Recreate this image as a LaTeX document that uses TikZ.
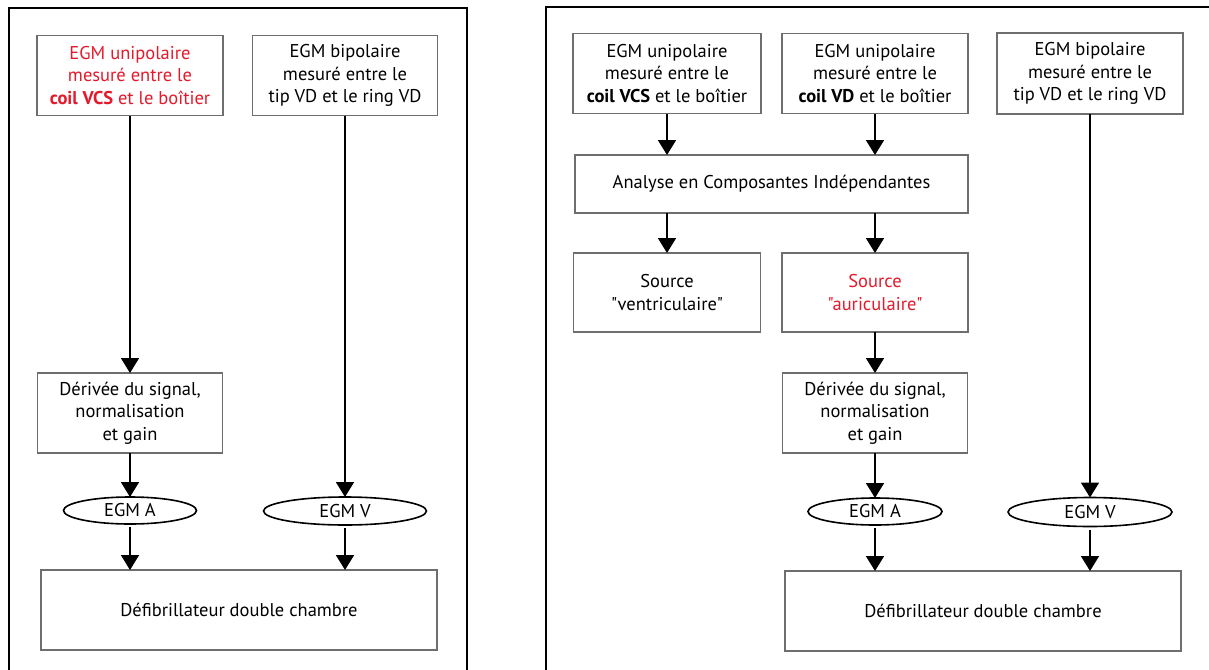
\documentclass[tikz,border=0pt]{standalone}
\usepackage{fontspec}
\setmainfont{PT Sans}[Ligatures=TeXOff]
\usetikzlibrary{shapes.geometric,arrows.meta}
\definecolor{boxgray}{RGB}{110,110,110}
\definecolor{egmred}{RGB}{228,26,44}
\tikzset{
  box/.style={draw=boxgray, line width=1.2pt, fill=white, inner sep=0pt, outer sep=0pt,
    minimum width=186pt, minimum height=80pt, align=center,
    font=\fontsize{18.5}{22.5}\selectfont},
  oval/.style={ellipse, draw=black, line width=1.6pt, inner sep=0pt, outer sep=0pt,
    minimum height=27pt, font=\fontsize{18.5}{20}\selectfont},
  flow/.style={line width=1.8pt, -{Triangle[width=18pt,length=15pt]}},
  frame/.style={line width=1.8pt, black},
}
\begin{document}
\begin{tikzpicture}[x=1pt,y=-1pt]
\useasboundingbox (0,0) rectangle (1209,669);
% frames
\draw[frame] (9,675) -- (9,8) -- (467,8) -- (467,675);
\draw[frame] (546,675) -- (546,7) -- (1215,7);
% left panel
\node[box, text=egmred] (L1) at (130,75.5) {EGM unipolaire\\mesuré entre le\\\textbf{coil VCS} et le boîtier};
\node[box, minimum width=185pt] (L2) at (345,75.5) {EGM bipolaire\\mesuré entre le\\tip VD et le ring VD};
\node[box, minimum width=185pt] (LD) at (130,413) {Dérivée du signal,\\normalisation\\et gain};
\node[oval, minimum width=133pt] (LA) at (130,510.5) {EGM A};
\node[oval, minimum width=163pt, minimum height=28pt] (LV) at (345,511) {EGM V};
\node[box, minimum width=396pt] (LB) at (239,610) {Défibrillateur double chambre};
\draw[flow] (L1.south) -- (LD.north);
\draw[flow] (LD.south) -- (LA.north);
\draw[flow, shorten <=3pt] (LA.south) -- (LA.south |- LB.north);
\draw[flow] (L2.south) -- (LV.north);
\draw[flow, shorten <=3pt] (LV.south) -- (LV.south |- LB.north);
% right panel
\node[box, minimum width=188pt] (R1) at (667,73.5) {EGM unipolaire\\mesuré entre le\\\textbf{coil VCS} et le boîtier};
\node[box] (R2) at (875,73.5) {EGM unipolaire\\mesuré entre le\\\textbf{coil VD} et le boîtier};
\node[box, minimum height=81pt] (R3) at (1090,73.5) {EGM bipolaire\\mesuré entre le\\tip VD et le ring VD};
\node[box, minimum width=393pt, minimum height=58pt] (ICA) at (771.5,184) {Analyse en Composantes Indépendantes};
\node[box, minimum width=187pt, minimum height=79pt] (SV) at (667,292.5) {Source\\"ventriculaire"};
\node[box, minimum height=79pt, text=egmred] (SA) at (875,292.5) {Source\\"auriculaire"};
\node[box, minimum width=185pt] (RD) at (875,413) {Dérivée du signal,\\normalisation\\et gain};
\node[oval, minimum width=134pt] (RA) at (875,511.5) {EGM A};
\node[oval, minimum width=164pt, minimum height=29pt] (RV) at (1090,512) {EGM V};
\node[box, minimum width=396pt] (RB) at (983,611) {Défibrillateur double chambre};
\draw[flow] (R1.south) -- (R1.south |- ICA.north);
\draw[flow] (R2.south) -- (R2.south |- ICA.north);
\draw[flow] (SV.north |- ICA.south) -- (SV.north);
\draw[flow] (SA.north |- ICA.south) -- (SA.north);
\draw[flow] (SA.south) -- (RD.north);
\draw[flow] (RD.south) -- (RA.north);
\draw[flow, shorten <=3pt] (RA.south) -- (RA.south |- RB.north);
\draw[flow] (R3.south) -- (RV.north);
\draw[flow, shorten <=3pt] (RV.south) -- (RV.south |- RB.north);
\end{tikzpicture}
\end{document}
